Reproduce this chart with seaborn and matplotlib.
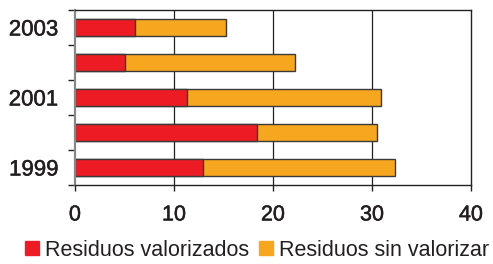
import matplotlib
matplotlib.use("Agg")
import matplotlib.pyplot as plt
import matplotlib.patches as mpatches
import matplotlib.patheffects as pe
from matplotlib.ticker import FixedLocator
import pandas as pd
import seaborn as sns

years = ["2003", "2002", "2001", "2000", "1999"]
year_labels = ["2003", "", "2001", "", "1999"]
valorizados = [6.1, 5.0, 11.3, 18.4, 12.9]
sin_valorizar = [9.2, 17.2, 19.6, 12.1, 19.4]
series_names = ["Residuos valorizados", "Residuos sin valorizar"]
x_ticks = [0, 10, 20, 30, 40]

RED = "#ED1C24"
ORANGE = "#F6A61F"
EDGE = "#3a3a3a"
TEXT = "#231f20"

df = pd.DataFrame({"year": years, "valorizados": valorizados, "sin": sin_valorizar})
df["total"] = df["valorizados"] + df["sin"]

sns.set_theme(style="white")
plt.rcParams["font.family"] = ["Liberation Sans", "DejaVu Sans"]

fig = plt.figure(figsize=(4.93, 2.64), dpi=100)
ax = fig.add_axes([75 / 493, 1 - 185 / 264, (471 - 75) / 493, (185 - 10) / 264])

# stacked: draw the total in orange, then the red part over it
sns.barplot(data=df, y="year", x="total", order=years, orient="h", color=ORANGE,
            saturation=1, width=0.46, edgecolor=EDGE, linewidth=1.0, ax=ax)
sns.barplot(data=df, y="year", x="valorizados", order=years, orient="h", color=RED,
            saturation=1, width=0.46, edgecolor=EDGE, linewidth=1.0, ax=ax)

ax.set_xlim(0, 40)
ax.set_ylim(4.5, -0.5)
ax.set_xticks(x_ticks)
ax.set_xticklabels([str(t) for t in x_ticks])
ax.set_yticks(range(len(years)))
ax.set_yticklabels(year_labels)
ax.yaxis.set_minor_locator(FixedLocator([-0.5, 0.5, 1.5, 2.5, 3.5, 4.5]))
ax.set_xlabel("")
ax.set_ylabel("")

for xv in x_ticks[1:-1]:
    ax.axvline(xv, color="#222222", linewidth=0.9, zorder=0)

for side in ["top", "right", "bottom"]:
    ax.spines[side].set_visible(True)
    ax.spines[side].set_color("#222222")
    ax.spines[side].set_linewidth(1.0)
ax.spines["left"].set_color("#888888")
ax.spines["left"].set_linewidth(1.6)

ax.tick_params(axis="y", which="major", length=0, pad=12, labelsize=16, labelcolor=TEXT)
ax.tick_params(axis="y", which="minor", left=True, length=5, width=1.0, color="#222222")
ax.tick_params(axis="x", which="major", bottom=True, length=4, width=1.0, color="#222222",
               pad=10, labelsize=15.5, labelcolor=TEXT)

handles = [mpatches.Patch(color=RED, label=series_names[0]),
           mpatches.Patch(color=ORANGE, label=series_names[1])]
leg = fig.legend(handles=handles, loc="lower left", bbox_to_anchor=(16 / 493, -0.02), ncol=2,
                 frameon=False, fontsize=15.5, handlelength=0.65, handleheight=0.65,
                 handletextpad=0.3, columnspacing=0.45, borderaxespad=0.0,
                 labelcolor=TEXT)

# tick labels a little heavier, like the medium weight of the original
bold_fx = [pe.withStroke(linewidth=0.35, foreground=TEXT)]
for t in ax.get_xticklabels() + ax.get_yticklabels():
    t.set_path_effects(bold_fx)

fig.savefig("out.png", dpi=100)
